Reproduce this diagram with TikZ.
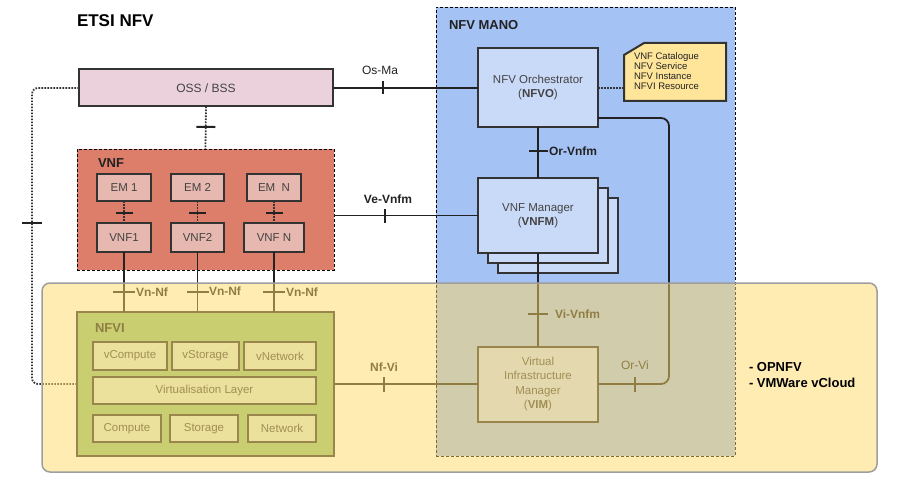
\documentclass[tikz,border=0pt]{standalone}
\usepackage{fontspec}
\setmainfont{Liberation Sans}
\usetikzlibrary{calc}
\definecolor{ossfill}{HTML}{EAD1DC}
\definecolor{manofill}{HTML}{A4C2F4}
\definecolor{mgmtfill}{HTML}{C9DAF8}
\definecolor{notefill}{HTML}{FFE599}
\definecolor{vnffill}{HTML}{DD7E6B}
\definecolor{emfill}{HTML}{E6B8AF}
\definecolor{nfvifill}{HTML}{93C47D}
\definecolor{hwfill}{HTML}{D9EAD3}
\definecolor{zonefill}{HTML}{FFD966}
\definecolor{ink}{HTML}{222222}
\definecolor{edge}{HTML}{333333}
\definecolor{boxtext}{HTML}{434343}
\definecolor{zoneedge}{HTML}{9E9E9E}
\begin{document}
\begin{tikzpicture}[x=1pt, y=-1pt,
  every node/.style={inner sep=0pt, outer sep=0pt},
  box/.style={draw=edge, line width=2pt, text=boxtext, align=center, font=\fontsize{11.5}{14}\selectfont},
  mgmt/.style={box, fill=mgmtfill, minimum width=120pt, minimum height=75pt},
  embox/.style={box, fill=emfill, minimum height=27pt, font=\fontsize{11.5}{14}\selectfont},
  hwbox/.style={box, fill=hwfill, minimum height=27pt, font=\fontsize{11.5}{14}\selectfont},
  container/.style={draw=black, line width=0.8pt, dash pattern=on 3pt off 2pt},
  conn/.style={draw=ink, line width=1.8pt},
  dotline/.style={draw=edge, line width=1.8pt, dash pattern=on 1.6pt off 1.4pt},
  tickmark/.style={sloped, sharp corners, solid, draw=none, fill=ink, minimum width=2pt, minimum height=#1},
  tickmark/.default=15pt,
  iflabel/.style={font=\bfseries\fontsize{12}{14}\selectfont, text=ink},
  ifplain/.style={font=\fontsize{12}{14}\selectfont, text=ink},
  grouplabel/.style={anchor=west, font=\bfseries\fontsize{13}{15}\selectfont, text=ink}
]
\useasboundingbox (0,0) rectangle (897,492);

% title
\node[anchor=west, font=\bfseries\fontsize{17}{20}\selectfont, text=black] (title) at (77,21) {ETSI NFV};

% NFV MANO container
\node[container, fill=manofill, minimum width=299pt, minimum height=449pt] (mano) at (585.5,231.5) {};
\node[grouplabel] (manolabel) at (449,25) {NFV MANO};

% OSS/BSS
\node[box, fill=ossfill, minimum width=254pt, minimum height=37pt, font=\fontsize{12}{14}\selectfont] (oss) at (206,88) {OSS / BSS};

% NFVO
\node[mgmt, minimum height=79pt] (nfvo) at (538,88) {NFV Orchestrator\\(\textbf{NFVO})};

% catalogue note
\node[minimum width=102pt, minimum height=58pt] (note) at (675,72) {};
\draw[draw=edge, line width=2pt, fill=notefill] ($(note.north west)+(0,12)$) -- ($(note.north west)+(20,0)$) -- (note.north east) -- (note.south east) -- (note.south west) -- cycle;
\node[anchor=north west, align=left, font=\fontsize{9.5}{10}\selectfont, text=ink] (notetext) at (634,53) {VNF Catalogue\\NFV Service\\NFV Instance\\NFVI Resource};

% VNFM stack
\node[mgmt] (vnfmback2) at (558,235.5) {};
\node[mgmt] (vnfmback1) at (548,225.5) {};
\node[mgmt] (vnfm) at (538,215.5) {VNF Manager\\(\textbf{VNFM})};

% VIM
\node[mgmt, align=center, font=\fontsize{11.5}{14.5}\selectfont] (vim) at (538,384) {Virtual\\Infrastructure\\Manager\\(\textbf{VIM})};

% VNF container
\node[container, fill=vnffill, minimum width=257pt, minimum height=121pt] (vnfgroup) at (205.5,209.5) {};
\node[grouplabel] (vnflabel) at (98,163) {VNF};
\node[embox, minimum width=54pt] (em1) at (124,187.5) {EM 1};
\node[embox, minimum width=53pt] (em2) at (197.5,187.5) {EM 2};
\node[embox, minimum width=54pt] (emn) at (274,187.5) {EM\ \ N};
\node[embox, minimum width=54pt, minimum height=29pt] (vnf1) at (124,237.5) {VNF1};
\node[embox, minimum width=53pt, minimum height=29pt] (vnf2) at (197.5,237.5) {VNF2};
\node[embox, minimum width=60pt, minimum height=29pt] (vnfn) at (274,237.5) {VNF N};

% NFVI
\node[box, fill=nfvifill, minimum width=257pt, minimum height=144pt] (nfvi) at (205.5,384) {};
\node[grouplabel] (nfvilabel) at (95,328) {NFVI};
\node[hwbox, minimum width=74pt, minimum height=28pt] (vcompute) at (130,356) {vCompute};
\node[hwbox, minimum width=67pt, minimum height=28pt] (vstorage) at (205.5,356) {vStorage};
\node[hwbox, minimum width=72pt, minimum height=28pt] (vnetwork) at (280,356) {vNetwork};
\node[hwbox, minimum width=223pt] (virt) at (204.5,390.5) {Virtualisation Layer};
\node[hwbox, minimum width=68pt] (compute) at (127,428.5) {Compute};
\node[hwbox, minimum width=68pt] (storage) at (204,428.5) {Storage};
\node[hwbox, minimum width=68pt] (network) at (282,428.5) {Network};

% connectors
\draw[conn] (oss.east) -- node[tickmark=13pt, pos=0.345]{} (nfvo.west);
\node[ifplain] (osma) at (380,70) {Os-Ma};

\draw[dotline] (nfvo.east) -- (nfvo.east -| note.west);

\draw[conn] (nfvo.south) -- node[tickmark=19pt, pos=0.465]{} (vnfm.north);
\node[iflabel, anchor=west] (orvnfm) at (549,151) {Or-Vnfm};

\draw[conn] (vnfgroup.east |- vnfm.west) -- node[tickmark=14pt, pos=0.354]{} (vnfm.west);
\node[iflabel] (vevnfm) at (388,199) {Ve-Vnfm};

\draw[dotline] (oss.south) -- node[tickmark=19pt, pos=0.48]{} (vnfgroup.north);

\coordinate (lbend1) at (32,88);
\coordinate (lbend2) at (32,384);
\draw[dotline, rounded corners=6pt] (oss.west) -- (lbend1) -- node[tickmark=20pt, pos=0.455]{} (lbend2) -- (nfvi.west);

\foreach \e/\v in {em1/vnf1, em2/vnf2, emn/vnfn}{
  \draw[dotline, line width=1.6pt] (\e.south) -- node[tickmark=17pt, pos=0.545]{} (\v.north);
  \draw[conn] (\v.south) -- node[tickmark=22pt, pos=0.667]{} (\v.south |- nfvi.north);
}
\node[iflabel, anchor=west] (vnnf1) at (136,292) {Vn-Nf};
\node[iflabel, anchor=west] (vnnf2) at (209,291) {Vn-Nf};
\node[iflabel, anchor=west] (vnnf3) at (286,292) {Vn-Nf};

\draw[conn] (vnfm.south) -- node[tickmark=20pt, pos=0.652]{} (vim.north);
\node[iflabel, anchor=west] (vivnfm) at (555,314) {Vi-Vnfm};

\draw[conn] (nfvi.east) -- node[tickmark=15pt, pos=0.347]{} (vim.west);
\node[iflabel] (nfvilink) at (384,367) {Nf-Vi};

\coordinate (orvi1) at (669,118);
\coordinate (orvi2) at (669,384);
\draw[conn, rounded corners=8pt] ($(nfvo.east)+(0,30)$) -- (orvi1) -- (orvi2) -- node[tickmark=15pt, pos=0.479]{} (vim.east);
\node[ifplain] (orvi) at (635,365) {Or-Vi};

% translucent NFVI zone
\node[draw=zoneedge, line width=1.5pt, fill=zonefill, fill opacity=0.5, rounded corners=8pt, minimum width=835pt, minimum height=189pt] (zone) at (459.5,377.5) {};
\node[anchor=west, align=left, font=\bfseries\fontsize{13}{16}\selectfont, text=black] (impl) at (749,375) {- OPNFV\\- VMWare vCloud};
\end{tikzpicture}
\end{document}
